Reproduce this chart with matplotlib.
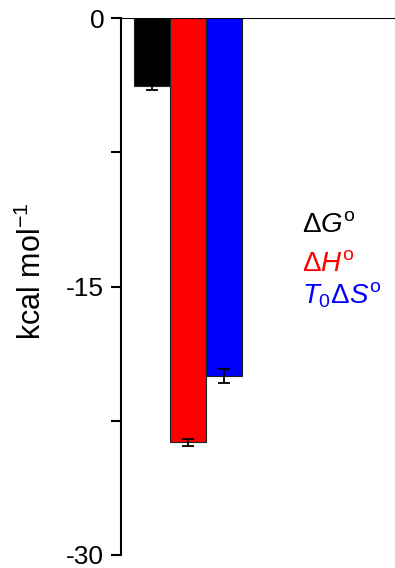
import matplotlib
matplotlib.use('Agg')
import matplotlib.pyplot as plt

plt.rcParams['font.family'] = ['Liberation Sans', 'DejaVu Sans']
plt.rcParams['mathtext.fontset'] = 'custom'
plt.rcParams['mathtext.rm'] = 'Liberation Sans'
plt.rcParams['mathtext.it'] = 'Liberation Sans:italic'

# data
terms = ['dG', 'dH', 'TdS']
values = [-3.8, -23.7, -20.0]
errors = [0.25, 0.2, 0.4]
colors = ['black', 'red', 'blue']
labels = [r'$\Delta G^{\rm o}$', r'$\Delta H^{\rm o}$', r'$T_0\Delta S^{\rm o}$']
yticks = [0, -15, -30]

fig = plt.figure(figsize=(3.95, 5.68), dpi=100)
ax = fig.add_axes([121 / 395, 13 / 568, 274 / 395, 537 / 568])

x = [0, 1, 2]
ax.bar(x, values, width=1.0, color=colors, edgecolor='#202020', linewidth=0.8,
       yerr=errors, error_kw=dict(ecolor='black', elinewidth=1.3, capsize=4, capthick=1.3))

ax.axhline(0, color='black', lw=1.5, zorder=5)
ax.set_xlim(-0.86, -0.86 + 274 / 36)
ax.set_ylim(-30, 0)
ax.set_yticks(yticks)
ax.set_yticklabels([str(t) for t in yticks])
ax.set_yticks([-7.5, -22.5], minor=True)
ax.tick_params(axis='y', which='both', direction='out', length=7, width=1.5, labelsize=19, pad=5)
ax.set_xticks([])
for s in ['top', 'right', 'bottom']:
    ax.spines[s].set_visible(False)
ax.spines['left'].set_linewidth(1.5)

ax.set_ylabel(r'kcal mol$^{-1}$', fontsize=22)
ax.yaxis.set_label_coords(-73 / 274, 1 - (271 - 18) / 537)

# legend as coloured text
ys = [232, 271, 303]
for lab, col, yy in zip(labels, colors, ys):
    fig.text(302 / 395, 1 - yy / 568, lab, color=col, fontsize=20,
             ha='left', va='baseline')

fig.savefig('out.png', dpi=100)
